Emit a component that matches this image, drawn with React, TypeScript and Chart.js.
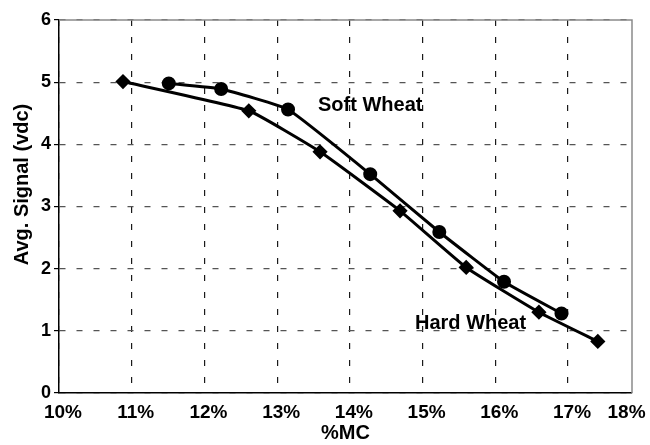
import { useEffect, useRef } from 'react';
import { Chart, registerables } from 'chart.js';

Chart.register(...registerables);

const seriesNames = ['Hard Wheat', 'Soft Wheat'];
const hardX = [10.88, 12.61, 13.59, 14.69, 15.6, 16.6, 17.41];
const hardY = [5.01, 4.54, 3.88, 2.93, 2.02, 1.3, 0.83];
const softX = [11.51, 12.23, 13.15, 14.28, 15.23, 16.12, 16.91];
const softY = [4.98, 4.89, 4.56, 3.52, 2.59, 1.79, 1.28];
const xTickValues = [10, 11, 12, 13, 14, 15, 16, 17, 17.75];
const xTickLabels = ['10%', '11%', '12%', '13%', '14%', '15%', '16%', '17%', '18%'];
const yTickValues = [0, 1, 2, 3, 4, 5, 6];
const labelX = [15.66, 14.28];
const labelY = [1.12, 4.63];
const xTitle = '%MC';
const yTitle = 'Avg. Signal (vdc)';

const FONT = '"Liberation Sans", Arial, Helvetica, sans-serif';

export default function App() {
  const ref = useRef<HTMLCanvasElement | null>(null);
  useEffect(() => {
    document.body.style.margin = '0';
    const canvas = ref.current;
    if (!canvas) return;
    const decor = {
      id: 'decor',
      afterDraw(chart: any) {
        const { ctx, chartArea: a, scales } = chart;
        const x = scales.x;
        const y = scales.y;
        ctx.save();
        ctx.strokeStyle = '#8a8a8a';
        ctx.lineWidth = 1.5;
        ctx.beginPath();
        ctx.moveTo(a.left, a.top);
        ctx.lineTo(a.right, a.top);
        ctx.lineTo(a.right, a.bottom);
        ctx.stroke();
        ctx.fillStyle = '#000';
        ctx.font = `bold 20px ${FONT}`;
        ctx.textAlign = 'center';
        ctx.textBaseline = 'middle';
        seriesNames.forEach((n, i) => {
          ctx.fillText(n, x.getPixelForValue(labelX[i]), y.getPixelForValue(labelY[i]));
        });
        ctx.font = `bold 20px ${FONT}`;
        ctx.translate(22, (a.top + a.bottom) / 2 - 22);
        ctx.rotate(-Math.PI / 2);
        ctx.fillText(yTitle, 0, 0);
        ctx.restore();
      },
    };
    const chart = new Chart(canvas, {
      type: 'line',
      data: {
        datasets: [
          {
            label: seriesNames[0],
            data: hardX.map((v, i) => ({ x: v, y: hardY[i] })),
            borderColor: '#000',
            backgroundColor: '#000',
            borderWidth: 3,
            pointStyle: 'rectRot',
            pointRadius: 5.5,
            tension: 0.12,
            fill: false,
          },
          {
            label: seriesNames[1],
            data: softX.map((v, i) => ({ x: v, y: softY[i] })),
            borderColor: '#000',
            backgroundColor: '#000',
            borderWidth: 3,
            pointStyle: 'circle',
            pointRadius: 5.5,
            tension: 0.12,
            fill: false,
          },
        ],
      },
      options: {
        animation: false,
        responsive: false,
        layout: { padding: { top: 20, right: 18, left: 0, bottom: 0 } },
        plugins: { legend: { display: false }, tooltip: { enabled: false } },
        scales: {
          x: {
            type: 'linear',
            min: 10,
            max: 17.88,
            afterBuildTicks: (axis: any) => {
              axis.ticks = xTickValues.map((v) => ({ value: v }));
            },
            afterFit: (axis: any) => {
              axis.height = 52;
            },
            grid: {
              color: (c: any) => (c.tick && c.tick.value > 17.5 ? 'rgba(0,0,0,0)' : '#1a1a1a'),
              lineWidth: 1.2,
              drawTicks: false,
            },
            border: { display: true, color: '#000', width: 1.5, dash: [6, 11] },
            ticks: {
              color: '#000',
              font: { family: FONT, size: 19, weight: 'bold' },
              padding: 8,
              labelOffset: 4,
              maxRotation: 0,
              autoSkip: false,
              callback: (v: any) => {
                const idx = xTickValues.indexOf(Number(v));
                return idx >= 0 ? xTickLabels[idx] : '';
              },
            },
            title: {
              display: true,
              text: xTitle,
              color: '#000',
              font: { family: FONT, size: 20, weight: 'bold' },
              padding: { top: 0, bottom: 0 },
            },
          },
          y: {
            type: 'linear',
            min: 0,
            max: 6,
            afterBuildTicks: (axis: any) => {
              axis.ticks = yTickValues.map((v) => ({ value: v }));
            },
            afterFit: (axis: any) => {
              axis.width = 59;
            },
            grid: {
              color: '#555',
              lineWidth: 1.2,
              drawTicks: true,
              tickLength: 5,
              tickColor: '#000',
              tickWidth: 1.2,
            },
            border: { display: true, color: '#000', width: 1.5, dash: [6, 11] },
            ticks: {
              color: '#000',
              font: { family: FONT, size: 18, weight: 'bold' },
              padding: 3,
              callback: (v: any) => String(v),
            },
          },
        },
      },
      plugins: [decor],
    });
    return () => chart.destroy();
  }, []);
  return (
    <div style={{ width: 650, height: 445 }}>
      <canvas ref={ref} width={650} height={445} style={{ display: 'block' }} />
    </div>
  );
}
